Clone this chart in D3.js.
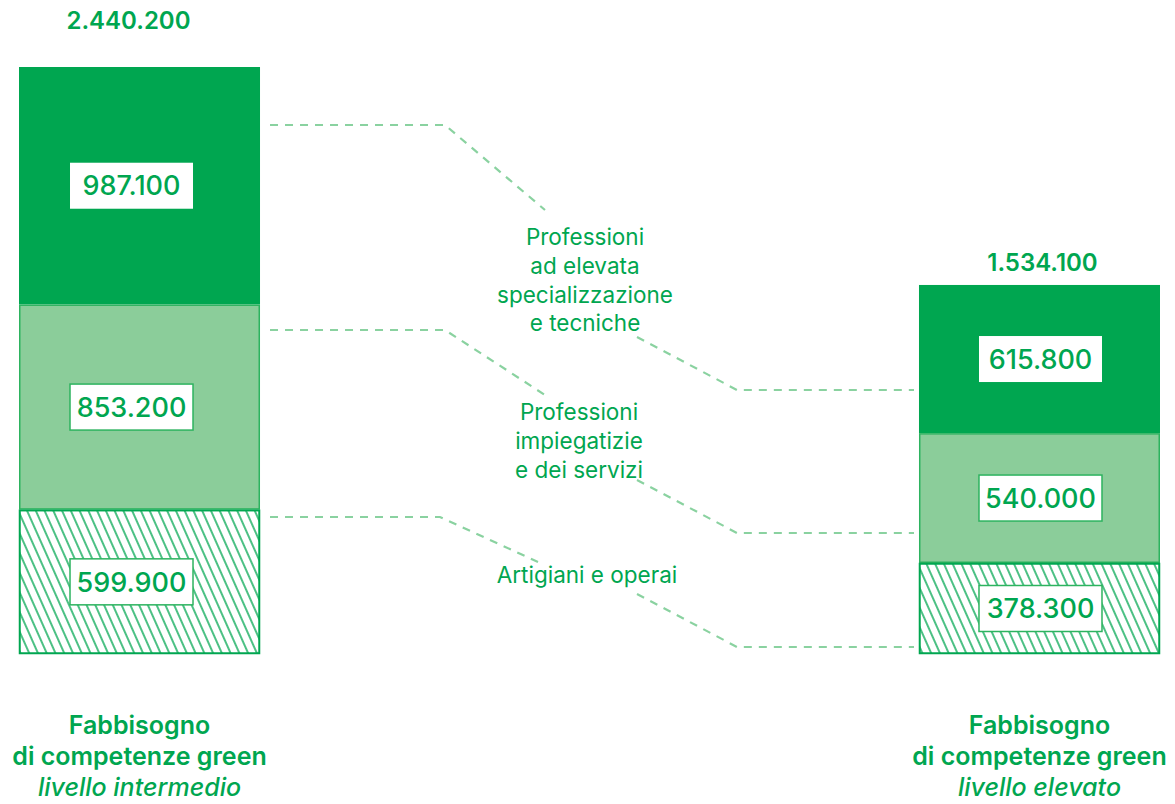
<!DOCTYPE html>
<html>
<head>
<meta charset="utf-8">
<script src="https://cdn.jsdelivr.net/npm/d3@7"></script>
<style>
  html, body { margin: 0; padding: 0; background: #fff; }
  svg text { font-family: Inter, "Noto Sans", sans-serif; fill: #00a650; }
</style>
</head>
<body>
<svg id="chart" width="1175" height="804"></svg>
<script>
(function () {
    'use strict';

    // data
    var bars = ["intermedio", "elevato"];
    var barTitle = ["Fabbisogno", "di competenze green"];
    var barLevel = ["livello intermedio", "livello elevato"];
    var categories = [
        ["Professioni", "ad elevata", "specializzazione", "e tecniche"],
        ["Professioni", "impiegatizie", "e dei servizi"],
        ["Artigiani e operai"]
    ];
    var valuesIntermedio = [987100, 853200, 599900];
    var valuesElevato = [615800, 540000, 378300];
    var seriesValues = [valuesIntermedio, valuesElevato];

    var green = "#00a650",
        lightGreen = "#8bcd9a",
        dashGreen = "#8ad2a0";

    var it = d3.formatLocale({ decimal: ",", thousands: ".", grouping: [3], currency: ["€", ""] });
    var fmt = it.format(",d");

    var svg = d3.select("#chart");

    // hatch pattern
    var defs = svg.append("defs");
    var pat = defs.append("pattern")
        .attr("id", "hatch")
        .attr("patternUnits", "userSpaceOnUse")
        .attr("width", 8)
        .attr("height", 10)
        .attr("patternTransform", "rotate(-24)");
    pat.append("rect").attr("width", 8).attr("height", 10).attr("fill", "#fff");
    pat.append("line")
        .attr("x1", 1).attr("y1", 0).attr("x2", 1).attr("y2", 10)
        .attr("stroke", green).attr("stroke-width", 1.4);

    var totals = seriesValues.map(function (v) { return d3.sum(v); });

    var x = d3.scaleBand()
        .domain(bars)
        .range([19, 1160])
        .paddingInner(0.7322);

    var y = d3.scaleLinear()
        .domain([0, d3.max(totals)])
        .range([654, 67]);

    var fills = [green, lightGreen, "url(#hatch)"],
        strokes = ["none", "#2db35f", green],
        strokeW = [0, 1.5, 2];

    var totalOffset = [47, 23];

    bars.forEach(function (b, bi) {
        var vals = seriesValues[bi];
        var stack = [];
        var acc = totals[bi];
        vals.forEach(function (v, i) {
            stack.push({ top: acc, bottom: acc - v, value: v, i: i });
            acc -= v;
        });

        var g = svg.append("g");

        g.selectAll("rect.seg")
            .data(stack)
            .enter()
            .append("rect")
            .attr("class", "seg")
            .attr("x", function (d) { return x(b) + (d.i ? 0.75 : 0); })
            .attr("y", function (d) { return y(d.top) + (d.i ? 0.75 : 0); })
            .attr("width", function (d) { return x.bandwidth() - (d.i ? 1.5 : 0); })
            .attr("height", function (d) { return y(d.bottom) - y(d.top) - (d.i ? 1.5 : 0); })
            .attr("fill", function (d) { return fills[d.i]; })
            .attr("stroke", function (d) { return strokes[d.i]; })
            .attr("stroke-width", function (d) { return strokeW[d.i]; });

        var boxW = 123, boxH = 46;
        var cx = x(b) + x.bandwidth() / 2 + (bi === 0 ? -8 : 1);

        var lab = g.selectAll("g.lab")
            .data(stack)
            .enter()
            .append("g")
            .attr("class", "lab")
            .attr("transform", function (d) {
                return "translate(" + cx + "," + ((y(d.top) + y(d.bottom)) / 2) + ")";
            });

        lab.append("rect")
            .attr("x", -boxW / 2)
            .attr("y", -boxH / 2)
            .attr("width", boxW)
            .attr("height", boxH)
            .attr("fill", "#fff")
            .attr("stroke", function (d) { return d.i ? "#2db35f" : "none"; })
            .attr("stroke-width", 1.5);

        lab.append("text")
            .attr("text-anchor", "middle")
            .attr("dy", "0.36em")
            .attr("font-size", 27)
            .attr("font-weight", 500)
            .text(function (d) { return fmt(d.value); });

        // total above the bar
        g.append("text")
            .attr("x", x(b) + x.bandwidth() / 2 + (bi === 0 ? -11 : 3))
            .attr("y", y(totals[bi]) - totalOffset[bi])
            .attr("dy", "0.36em")
            .attr("text-anchor", "middle")
            .attr("font-size", 24)
            .attr("font-weight", 600)
            .text(fmt(totals[bi]));

        // title under the bar
        var t = g.append("text")
            .attr("text-anchor", "middle")
            .attr("font-size", 25)
            .attr("font-weight", 600);
        barTitle.forEach(function (line, li) {
            t.append("tspan")
                .attr("x", x(b) + x.bandwidth() / 2)
                .attr("y", 734 + li * 31)
                .text(line);
        });
        t.append("tspan")
            .attr("x", x(b) + x.bandwidth() / 2)
            .attr("y", 734 + 2 * 31)
            .attr("font-style", "italic")
            .attr("font-weight", 500)
            .text(barLevel[bi]);
    });

    // dashed connectors between the two bars
    var xL = x(bars[0]) + x.bandwidth() + 10,
        xR = x(bars[1]) - 5;
    var connectors = [
        { ly: 125, knee: 445, end: [545, 210], start: [637, 337], ry: 390 },
        { ly: 330, knee: 445, end: [545, 395], start: [637, 480], ry: 533 },
        { ly: 517, knee: 440, end: [538, 562], start: [637, 594], ry: 647 }
    ];
    var line = d3.line();

    connectors.forEach(function (c) {
        svg.append("path")
            .attr("d", line([[xL, c.ly], [c.knee, c.ly], c.end]))
            .attr("fill", "none")
            .attr("stroke", dashGreen)
            .attr("stroke-width", 2.2)
            .attr("stroke-dasharray", "8,7");
        svg.append("path")
            .attr("d", line([c.start, [737, c.ry], [xR, c.ry]]))
            .attr("fill", "none")
            .attr("stroke", dashGreen)
            .attr("stroke-width", 2.2)
            .attr("stroke-dasharray", "8,7");
    });

    // category labels in the middle
    var catPos = [[585, 237], [579, 412], [587, 575]];
    categories.forEach(function (lines, ci) {
        var tx = svg.append("text")
            .attr("text-anchor", "middle")
            .attr("font-size", 22.5)
            .attr("font-weight", 400);
        lines.forEach(function (l, li) {
            tx.append("tspan")
                .attr("x", catPos[ci][0])
                .attr("y", catPos[ci][1] + li * 28.7)
                .attr("dy", "0.36em")
                .text(l);
        });
    });
})();
</script>
</body>
</html>
